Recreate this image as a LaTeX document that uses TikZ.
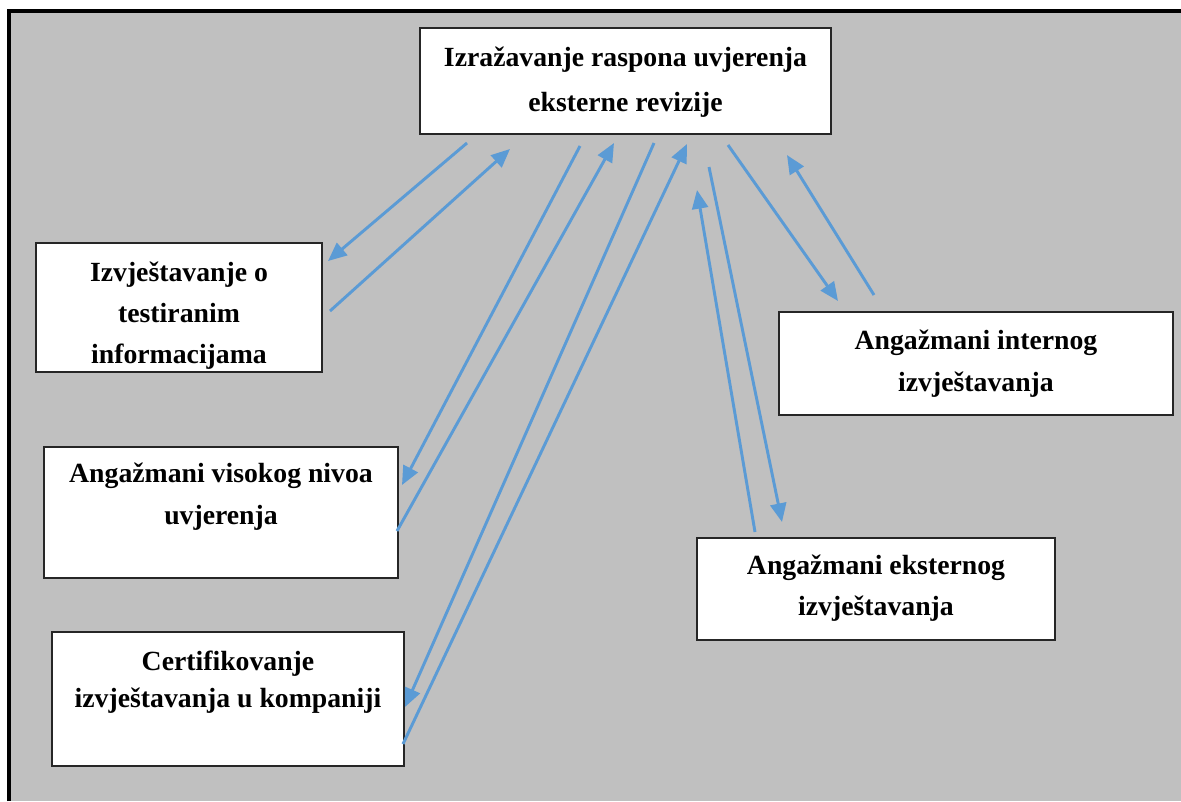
\documentclass[tikz,border=0pt]{standalone}
\usepackage{fontspec}
\setmainfont{Liberation Serif}
\usetikzlibrary{arrows.meta,fit}
\definecolor{panelgray}{HTML}{C0C0C0}
\definecolor{linkblue}{HTML}{5B9BD5}
\begin{document}
\begin{tikzpicture}[x=0.75pt,y=-0.75pt,
  box/.style={draw=black!85,line width=1.2pt,fill=white,rectangle,inner sep=0pt},
  boxtext/.style={anchor=base,align=center,inner sep=0pt,font=\bfseries\fontsize{20.8}{#1}\selectfont},
  link/.style={draw=linkblue,line width=2.2pt,-{Triangle[length=14pt,width=12pt]}}]
\useasboundingbox (0,0) rectangle (1181,801);
% panel
\fill[panelgray] (9,11) rectangle (1181,801);
\draw[line width=2.4pt] (9,801) -- (9,11) -- (1181,11);

% boxes
\node[box,fit={(420,28) (831,134)}] (top) {};
\node[box,fit={(36,243) (322,372)}] (tested) {};
\node[box,fit={(44,447) (398,578)}] (high) {};
\node[box,fit={(52,632) (404,766)}] (cert) {};
\node[box,fit={(779,312) (1173,415)}] (internal) {};
\node[box,fit={(697,538) (1055,640)}] (external) {};

% labels (anchored at the baseline of the last line)
\node[boxtext=33.75] (ttop) at (625.5,111) {Izražavanje raspona uvjerenja\\eksterne revizije};
\node[boxtext=30.75] (ttested) at (179,363) {Izvještavanje o\\testiranim\\informacijama};
\node[boxtext=31.5] (thigh) at (221,524) {Angažmani visokog nivoa\\uvjerenja};
\node[boxtext=27.5] (tcert) at (228,707) {Certifikovanje\\izvještavanja u kompaniji};
\node[boxtext=31.5] (tinternal) at (976,391) {Angažmani internog\\izvještavanja};
\node[boxtext=30.5] (texternal) at (876,615) {Angažmani eksternog\\izvještavanja};

% end points of the links
\coordinate (a1) at (467,143); \coordinate (a2) at (328,261);
\coordinate (b1) at (330,311); \coordinate (b2) at (510,149);
\coordinate (c1) at (580,146); \coordinate (c2) at (402,485);
\coordinate (d1) at (397,531); \coordinate (d2) at (614,143);
\coordinate (e1) at (654,143); \coordinate (e2) at (405,707);
\coordinate (f1) at (403,744); \coordinate (f2) at (687,144);
\coordinate (g1) at (709,167); \coordinate (g2) at (782,522);
\coordinate (h1) at (755,532); \coordinate (h2) at (697,190);
\coordinate (i1) at (728,145); \coordinate (i2) at (838,301);
\coordinate (j1) at (874,295); \coordinate (j2) at (787,155);

\foreach \s in {a,b,c,d,e,f,g,h,i,j}
  \draw[link] (\s1) -- (\s2);
\end{tikzpicture}
\end{document}
